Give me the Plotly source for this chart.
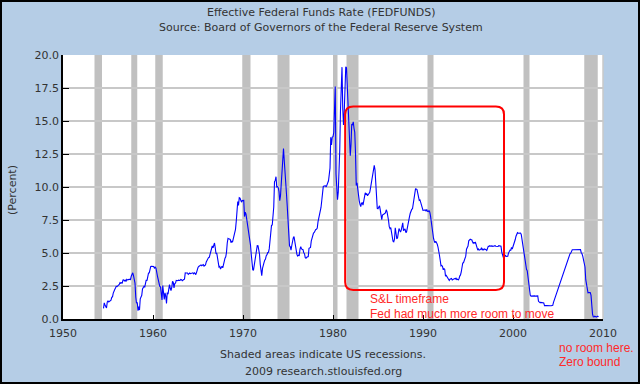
import plotly.graph_objects as go

# ---- Data: monthly effective federal funds rate, starting July 1954 ----
start_year = 1954
start_month = 7
fedfunds = [
    0.80, 1.22, 1.06, 0.85, 0.83, 1.28,
    1.39, 1.29, 1.35, 1.43, 1.43, 1.64, 1.68, 1.96, 2.18, 2.24, 2.35, 2.48,
    2.45, 2.50, 2.50, 2.62, 2.75, 2.71, 2.75, 2.73, 2.95, 2.96, 2.88, 2.94,
    2.84, 3.00, 2.96, 3.00, 3.00, 3.00, 2.99, 3.24, 3.47, 3.50, 3.28, 2.98,
    2.72, 1.67, 1.20, 1.26, 0.63, 0.93, 0.68, 1.53, 1.76, 1.80, 2.27, 2.42,
    2.48, 2.43, 2.80, 2.96, 2.90, 3.39, 3.47, 3.50, 3.76, 3.98, 4.00, 3.99,
    3.99, 3.97, 3.84, 3.92, 3.85, 3.32, 3.23, 2.98, 2.60, 2.47, 2.44, 1.98,
    1.45, 2.54, 2.02, 1.49, 1.98, 1.73, 1.17, 2.00, 1.88, 2.26, 2.61, 2.33,
    2.15, 2.37, 2.85, 2.78, 2.36, 2.68, 2.71, 2.93, 2.90, 2.90, 2.94, 2.93,
    2.92, 3.00, 2.98, 2.90, 3.00, 2.99, 3.02, 3.49, 3.48, 3.50, 3.48, 3.38,
    3.48, 3.48, 3.43, 3.47, 3.50, 3.50, 3.42, 3.50, 3.45, 3.36, 3.52, 3.85,
    3.90, 3.98, 4.04, 4.09, 4.10, 4.04, 4.09, 4.12, 4.01, 4.08, 4.10, 4.32,
    4.42, 4.60, 4.65, 4.67, 4.90, 5.17, 5.30, 5.53, 5.40, 5.53, 5.76, 5.40,
    4.94, 5.00, 4.53, 4.05, 3.94, 3.98, 3.79, 3.90, 3.99, 3.88, 4.13, 4.51,
    4.61, 4.71, 5.05, 5.76, 6.11, 6.07, 6.02, 6.03, 5.78, 5.91, 5.82, 6.02,
    6.30, 6.61, 6.79, 7.41, 8.67, 8.90, 8.61, 9.19, 9.15, 9.00, 8.85, 8.97,
    8.98, 8.98, 7.76, 8.10, 7.95, 7.61, 7.21, 6.61, 6.29, 6.20, 5.60, 4.90,
    4.14, 3.72, 3.71, 4.16, 4.63, 4.91, 5.31, 5.56, 5.55, 5.20, 4.91, 4.14,
    3.50, 3.29, 3.83, 4.17, 4.27, 4.46, 4.55, 4.80, 4.87, 5.04, 5.06, 5.33,
    5.94, 6.58, 7.09, 7.12, 7.84, 8.49, 10.40, 10.50, 10.78, 10.01, 10.03, 9.95,
    9.65, 8.97, 9.35, 10.51, 11.31, 11.93, 12.92, 12.01, 11.34, 10.06, 9.45, 8.53,
    7.13, 6.24, 5.54, 5.49, 5.22, 5.55, 6.10, 6.14, 6.24, 5.82, 5.22, 5.20,
    4.87, 4.77, 4.84, 4.82, 5.29, 5.48, 5.31, 5.29, 5.25, 5.02, 4.95, 4.65,
    4.61, 4.68, 4.69, 4.73, 5.35, 5.39, 5.42, 5.90, 6.14, 6.47, 6.51, 6.56,
    6.70, 6.78, 6.79, 6.89, 7.36, 7.60, 7.81, 8.04, 8.45, 8.96, 9.76, 10.03,
    10.07, 10.06, 10.09, 10.01, 10.24, 10.29, 10.47, 10.94, 11.43, 13.77, 13.18, 13.78,
    13.82, 14.13, 17.19, 17.61, 10.98, 9.47, 9.03, 9.61, 10.87, 12.81, 15.85, 18.90,
    19.08, 15.93, 14.70, 15.72, 18.52, 19.10, 19.04, 17.82, 15.87, 15.08, 13.31, 12.37,
    13.22, 14.78, 14.68, 14.94, 14.45, 14.15, 12.59, 10.12, 10.31, 9.71, 9.20, 8.95,
    8.68, 8.51, 8.77, 8.80, 8.63, 8.98, 9.37, 9.56, 9.45, 9.48, 9.34, 9.47,
    9.56, 9.59, 9.91, 10.29, 10.32, 11.06, 11.23, 11.64, 11.30, 9.99, 9.43, 8.38,
    8.35, 8.50, 8.58, 8.27, 7.97, 7.53, 7.88, 7.90, 7.92, 7.99, 8.05, 8.27,
    8.14, 7.86, 7.48, 6.99, 6.85, 6.92, 6.56, 6.17, 5.89, 5.85, 6.04, 6.91,
    6.43, 6.10, 6.13, 6.37, 6.85, 6.73, 6.58, 6.73, 7.22, 7.29, 6.69, 6.77,
    6.83, 6.58, 6.58, 6.87, 7.09, 7.51, 7.75, 8.01, 8.19, 8.30, 8.35, 8.76,
    9.12, 9.36, 9.85, 9.84, 9.81, 9.53, 9.24, 8.99, 9.02, 8.84, 8.55, 8.45,
    8.23, 8.24, 8.28, 8.26, 8.18, 8.29, 8.15, 8.13, 8.20, 8.11, 7.81, 7.31,
    6.91, 6.25, 6.12, 5.91, 5.78, 5.90, 5.82, 5.66, 5.45, 5.21, 4.81, 4.43,
    4.03, 4.06, 3.98, 3.73, 3.82, 3.76, 3.25, 3.30, 3.22, 3.10, 3.09, 2.92,
    3.02, 3.03, 3.07, 2.96, 3.00, 3.04, 3.06, 3.03, 3.09, 2.99, 3.02, 2.96,
    3.05, 3.25, 3.34, 3.56, 4.01, 4.25, 4.26, 4.47, 4.73, 4.76, 5.29, 5.45,
    5.53, 5.92, 5.98, 6.05, 6.01, 6.00, 5.85, 5.74, 5.80, 5.76, 5.80, 5.60,
    5.56, 5.22, 5.31, 5.22, 5.24, 5.27, 5.40, 5.22, 5.30, 5.24, 5.31, 5.29,
    5.25, 5.19, 5.39, 5.51, 5.50, 5.56, 5.52, 5.54, 5.54, 5.50, 5.52, 5.50,
    5.56, 5.51, 5.49, 5.45, 5.49, 5.56, 5.54, 5.55, 5.51, 5.07, 4.83, 4.68,
    4.63, 4.76, 4.81, 4.74, 4.74, 4.76, 4.99, 5.07, 5.22, 5.20, 5.42, 5.30,
    5.45, 5.73, 5.85, 6.02, 6.27, 6.53, 6.54, 6.50, 6.52, 6.51, 6.51, 6.40,
    5.98, 5.49, 5.31, 4.80, 4.21, 3.97, 3.77, 3.65, 3.07, 2.49, 2.09, 1.82,
    1.73, 1.74, 1.73, 1.75, 1.75, 1.75, 1.73, 1.74, 1.75, 1.75, 1.34, 1.24,
    1.24, 1.26, 1.25, 1.26, 1.26, 1.22, 1.01, 1.03, 1.01, 1.01, 1.00, 0.98,
    1.00, 1.01, 1.00, 1.00, 1.00, 1.03, 1.26, 1.43, 1.61, 1.76, 1.93, 2.16,
    2.28, 2.50, 2.63, 2.79, 3.00, 3.04, 3.26, 3.50, 3.62, 3.78, 4.00, 4.16,
    4.29, 4.49, 4.59, 4.79, 4.94, 4.99, 5.24, 5.25, 5.25, 5.25, 5.25, 5.24,
    5.25, 5.26, 5.26, 5.25, 5.25, 5.25, 5.26, 5.02, 4.94, 4.76, 4.49, 4.24,
    3.94, 2.98, 2.61, 2.28, 1.98, 2.00, 2.01, 2.00, 1.81, 0.97, 0.39, 0.16,
    0.15, 0.22, 0.18, 0.15, 0.18, 0.21, 0.16,
]

# Recessions (start, end) as year-month
recessions = [
    ("1953-07", "1954-05"), ("1957-08", "1958-04"), ("1960-04", "1961-02"),
    ("1969-12", "1970-11"), ("1973-11", "1975-03"), ("1980-01", "1980-07"),
    ("1981-07", "1982-11"), ("1990-07", "1991-03"), ("2001-03", "2001-11"),
    ("2007-12", "2009-06"),
]

x_ticks = [1950, 1960, 1970, 1980, 1990, 2000, 2010]
y_ticks = [0, 2.5, 5, 7.5, 10, 12.5, 15, 17.5, 20]

# S&L timeframe highlight box (data coords)
box_x = (1981.35, 1999.0)
box_y = (2.2, 16.1)


def ym_to_dec(s):
    y, m = s.split("-")
    return int(y) + (int(m) - 1) / 12.0


x_vals = [start_year + (start_month - 1 + i) / 12.0 for i in range(len(fedfunds))]

BG = "#B5CDE6"
FONT = "DejaVu Sans"
TXT = "#333333"
RED = "#FF2A2A"

fig = go.Figure()

fig.add_trace(go.Scatter(
    x=x_vals, y=fedfunds, mode="lines",
    line=dict(color="#0000FF", width=1.1),
    hoverinfo="skip", showlegend=False,
))

shapes = []
for a, b in recessions:
    shapes.append(dict(type="rect", xref="x", yref="paper",
                       x0=ym_to_dec(a), x1=ym_to_dec(b), y0=0, y1=1,
                       fillcolor="#C0C0C0", line=dict(width=0), layer="below"))

# right border of plot (light gray)
shapes.append(dict(type="line", xref="paper", yref="paper", x0=1, x1=1, y0=0, y1=1,
                   line=dict(color="#C8C8C8", width=1.5)))

# rounded rectangle
x0, x1 = box_x
y0, y1 = box_y
rx, ry = 0.9, 0.6
path = (f"M {x0+rx},{y1} L {x1-rx},{y1} Q {x1},{y1} {x1},{y1-ry} "
        f"L {x1},{y0+ry} Q {x1},{y0} {x1-rx},{y0} "
        f"L {x0+rx},{y0} Q {x0},{y0} {x0},{y0+ry} "
        f"L {x0},{y1-ry} Q {x0},{y1} {x0+rx},{y1} Z")
shapes.append(dict(type="path", xref="x", yref="y", path=path,
                   line=dict(color="#FF0000", width=2), fillcolor="rgba(0,0,0,0)"))

# outer black frame of the whole image
L, R, T, B = 63, 37, 55, 65
W, H = 640, 384
pw, ph = W - L - R, H - T - B
shapes.append(dict(type="rect", xref="paper", yref="paper",
                   x0=(-L + 1) / pw, x1=(W - L - 1) / pw,
                   y0=(-B + 1) / ph, y1=(H - B - 1) / ph,
                   line=dict(color="#000000", width=2), fillcolor="rgba(0,0,0,0)"))


def px_x(px):
    return (px - L) / pw


def px_y(py):
    return (H - B - py) / ph


annotations = [
    dict(text="Effective Federal Funds Rate (FEDFUNDS)", x=px_x(321), y=px_y(12)),
    dict(text="Source: Board of Governors of the Federal Reserve System", x=px_x(321), y=px_y(27)),
    dict(text="Shaded areas indicate US recessions.", x=px_x(323), y=px_y(355)),
    dict(text="2009 research.stlouisfed.org", x=px_x(323), y=px_y(371)),
]
annots = []
for a in annotations:
    annots.append(dict(xref="paper", yref="paper", showarrow=False,
                       xanchor="center", yanchor="middle",
                       font=dict(family=FONT, size=11, color=TXT), **a))

annots.append(dict(xref="paper", yref="paper", x=px_x(12), y=px_y(190), text="(Percent)",
                   textangle=-90, showarrow=False, xanchor="center", yanchor="middle",
                   font=dict(family=FONT, size=11, color=TXT)))

red_texts = [
    ("S&L timeframe", 368, 299),
    ("Fed had much more room to move", 368, 314),
    ("no room here.", 557, 348),
    ("Zero bound", 557, 362),
]
for t, px, py in red_texts:
    annots.append(dict(xref="paper", yref="paper", x=px_x(px), y=px_y(py), text=t,
                       showarrow=False, xanchor="left", yanchor="middle",
                       font=dict(family="Liberation Sans", size=12, color=RED)))

fig.update_layout(
    width=W, height=H,
    margin=dict(l=L, r=R, t=T, b=B, pad=0),
    paper_bgcolor=BG, plot_bgcolor="#FFFFFF",
    shapes=shapes, annotations=annots,
    xaxis=dict(range=[1950, 2010], tickmode="array", tickvals=x_ticks,
               ticktext=[str(v) for v in x_ticks],
               showgrid=False, zeroline=False, showline=True, linecolor="#000000",
               linewidth=1.5, ticks="inside", ticklen=4, tickcolor="#000000",
               ticklabelstandoff=3,
               tickfont=dict(family=FONT, size=11, color=TXT)),
    yaxis=dict(range=[0, 20], tickmode="array", tickvals=y_ticks,
               ticktext=[f"{v:.1f}" for v in y_ticks],
               showgrid=True, gridcolor="#C8C8C8", gridwidth=1.5,
               zeroline=False, showline=True, linecolor="#000000", linewidth=1.5,
               ticks="inside", ticklen=6, tickcolor="#000000",
               tickfont=dict(family=FONT, size=11, color=TXT)),
)

fig.write_html("out.html",
               config={"displayModeBar": False},
               post_script="document.body.style.margin='0px';document.body.style.overflow='hidden';")
